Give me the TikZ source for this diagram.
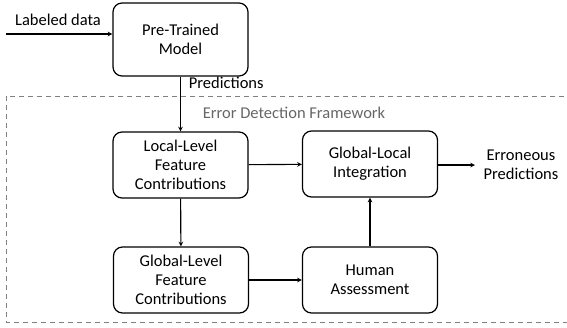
\documentclass[tikz,border=0pt]{standalone}
\usepackage{fontspec}
\setmainfont{Carlito}
\usetikzlibrary{calc}

\tikzset{
    stage/.style={draw, rounded corners=9pt, line width=1.2pt, minimum width=135pt, minimum height=66pt, align=center, font=\fontsize{16.5}{19}\selectfont},
    plain/.style={align=center, font=\fontsize{16.5}{19}\selectfont},
}

\begin{document}
\begin{tikzpicture}[>=stealth, x=1pt, y=-1pt, line width=1.1pt]
            \useasboundingbox (0, 0) rectangle (567, 327);
            \begin{scope}
                \clip (0, 0) rectangle (567, 327);
                \draw[dashed, gray, line width=0.9pt, dash pattern=on 5pt off 4pt] (6, 96) rectangle (590, 322);
            \end{scope}
            \node[plain, text=black!60] (frame) at (294, 113) {Error Detection Framework};
            \node[stage, minimum height=73pt] (model) at (180.5, 39.5) {Pre-Trained\\Model};
            \node[stage] (local) at (180.5, 165) {Local-Level\\Feature\\Contributions};
            \node[stage] (glint) at (370, 164) {Global-Local\\Integration};
            \node[stage] (global) at (181, 280) {Global-Level\\Feature\\Contributions};
            \node[stage] (human) at (370, 280) {Human\\Assessment};
            \node[plain] (data) at (58, 20) {Labeled data};
            \node[plain, anchor=west] (pred) at (185, 83) {Predictions};
            \node[plain] (err) at (521, 165) {Erroneous\\Predictions};
            \coordinate (src) at (6, 34);
            \coordinate (out) at (475, 165);
            \draw[->] (src) -- (src -| model.west);
            \draw[->] (model) -- (local);
            \draw[->] (local) -- (glint);
            \draw[->] (glint.east |- out) -- (out);
            \draw[->] (local) -- (global);
            \draw[->] (global) -- (human);
            \draw[->] (human) -- (glint);
        \end{tikzpicture}
\end{document}
